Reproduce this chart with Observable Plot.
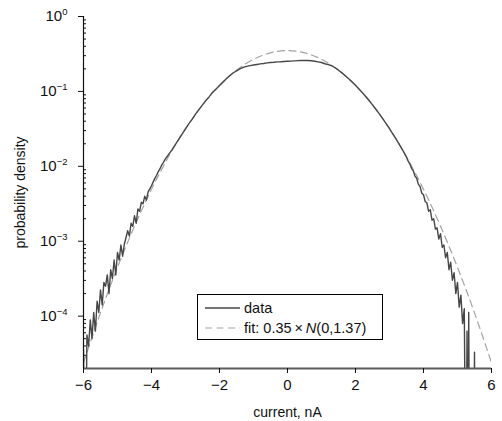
<!DOCTYPE html>
<html>
<head>
<meta charset="utf-8">
<script src="https://cdn.jsdelivr.net/npm/d3@7"></script>
<script src="https://cdn.jsdelivr.net/npm/@observablehq/plot@0.6"></script>
<style>
  html, body { margin: 0; padding: 0; background: #fff; }
  #wrap { position: relative; width: 502px; height: 421px; font-family: "Liberation Sans", Arial, Helvetica, sans-serif; }
  #wrap svg { display: block; }
  #wrap g[aria-label$="tick label"] { font-size: 15px; }
  #legend { position: absolute; left: 197px; top: 294px; width: 186px; height: 46px; box-sizing: border-box;
            border: 1px solid #000; background: #fff; font-size: 14.5px; color: #111; }
  .row { position: absolute; left: 7px; height: 20px; display: flex; align-items: center; white-space: nowrap; }
  .row svg { margin-right: 4px; }
</style>
</head>
<body>
<div id="wrap"></div>
<script>
// ---- data ----
// histogram of current (nA) and its probability density (0 = empty bin)
const currentX = [
  -6.00,-5.95,-5.90,-5.85,-5.80,-5.75,-5.70,-5.65,-5.60,-5.55,-5.50,-5.45,-5.40,-5.35,-5.30,-5.25,-5.20,-5.15,-5.10,-5.05,
  -5.00,-4.95,-4.90,-4.85,-4.80,-4.75,-4.70,-4.65,-4.60,-4.55,-4.50,-4.45,-4.40,-4.35,-4.30,-4.25,-4.20,-4.15,-4.10,-4.05,
  -4.00,-3.95,-3.90,-3.85,-3.80,-3.75,-3.70,-3.65,-3.60,-3.55,-3.50,
  -3.4,-3.3,-3.2,-3.1,-3.0,-2.9,-2.8,-2.7,-2.6,-2.5,-2.4,-2.3,-2.2,-2.1,-2.0,-1.9,-1.8,-1.7,-1.6,-1.5,-1.4,-1.3,-1.2,-1.1,
  -1.0,-0.9,-0.8,-0.7,-0.6,-0.5,-0.4,-0.3,-0.2,-0.1,0.0,0.1,0.2,0.3,0.4,0.5,0.6,0.7,0.8,0.9,
  1.0,1.1,1.2,1.3,1.4,1.5,1.6,1.7,1.8,1.9,2.0,2.1,2.2,2.3,2.4,2.5,2.6,2.7,2.8,2.9,3.0,3.1,3.2,3.3,3.4,3.5,
  3.55,3.60,3.65,3.70,3.75,3.80,3.85,3.90,3.95,4.00,4.05,4.10,4.15,4.20,4.25,4.30,4.35,4.40,4.45,4.50,
  4.55,4.60,4.65,4.70,4.75,4.80,4.85,4.90,4.95,5.00,5.05,5.10,5.15,5.20,5.25,5.28,5.30,5.33,5.36,5.47,5.50,5.53
];
const density = [
  3.55e-5,0,5.62e-5,3.98e-5,8.91e-5,5.01e-5,1.12e-4,6.3e-5,1.58e-4,1.12e-4,2.24e-4,1.41e-4,2.82e-4,2.51e-4,3.55e-4,2.00e-4,4.17e-4,3.16e-4,5.62e-4,3.55e-4,
  7.08e-4,5.62e-4,8.91e-4,6.31e-4,9.12e-4,1.12e-3,1.38e-3,1.17e-3,1.74e-3,1.58e-3,2.19e-3,1.74e-3,2.69e-3,2.51e-3,3.31e-3,3.16e-3,3.98e-3,3.55e-3,4.57e-3,5.0e-3,
  5.5e-3,6.2e-3,6.9e-3,7.6e-3,8.5e-3,9.3e-3,1.04e-2,1.13e-2,1.24e-2,1.33e-2,1.43e-2,
  1.66e-2,1.95e-2,2.29e-2,2.69e-2,3.16e-2,3.72e-2,4.27e-2,5.01e-2,5.75e-2,6.61e-2,7.59e-2,8.51e-2,9.77e-2,0.108,0.120,0.133,0.148,0.162,0.176,0.188,0.200,0.209,0.216,0.221,
  0.225,0.229,0.233,0.236,0.240,0.243,0.245,0.248,0.249,0.251,0.253,0.254,0.256,0.258,0.259,0.259,0.259,0.257,0.253,0.248,
  0.243,0.234,0.228,0.220,0.207,0.192,0.177,0.162,0.148,0.134,0.121,0.108,0.0964,0.0855,0.0755,0.0662,0.0578,0.0502,0.0434,0.0372,0.0318,0.0270,0.0229,0.0192,0.0161,0.0132,
  1.17e-2,1.07e-2,9.33e-3,8.71e-3,7.41e-3,6.92e-3,5.75e-3,5.37e-3,4.37e-3,4.17e-3,3.39e-3,3.24e-3,2.51e-3,2.63e-3,1.91e-3,2.00e-3,1.45e-3,1.51e-3,1.07e-3,1.26e-3,
  8.32e-4,8.91e-4,6.03e-4,7.08e-4,4.17e-4,5.25e-4,3.02e-4,3.80e-4,2.00e-4,2.82e-4,1.32e-4,1.91e-4,7.94e-5,1.26e-4,0,6.31e-5,0,1.12e-4,0,0,3.31e-5,0
];
// fit: 0.35 x N(0,1.37), sampled values
const fitX = [-6,-5.5,-5,-4.5,-4,-3.5,-3,-2.5,-2,-1.5,-1,-0.5,0,0.5,1,1.5,2,2.5,3,3.5,4,4.5,5,5.5,6];
const fitDensity = [2.39e-5,1.107e-4,4.48e-4,1.589e-3,4.933e-3,0.01339,0.03182,0.06622,0.1206,0.1922,0.2681,0.3275,0.35,
                    0.3275,0.2681,0.1922,0.1206,0.06622,0.03182,0.01339,4.933e-3,1.589e-3,4.48e-4,1.107e-4,2.39e-5];
// axes
const xDomain = [-6, 6];
const yDomain = [2e-5, 1];
const xTicks = [-6, -4, -2, 0, 2, 4, 6];
const xTickLabels = ["\u22126", "\u22124", "\u22122", "0", "2", "4", "6"];
const yTicks = [1e-4, 1e-3, 1e-2, 1e-1, 1];
const yTickExponents = ["\u22124", "\u22123", "\u22122", "\u22121", "0"];
const yMinorTicks = [3e-5,4e-5,5e-5,6e-5,7e-5,8e-5,9e-5,
                     2e-4,3e-4,4e-4,5e-4,6e-4,7e-4,8e-4,9e-4,
                     2e-3,3e-3,4e-3,5e-3,6e-3,7e-3,8e-3,9e-3,
                     2e-2,3e-2,4e-2,5e-2,6e-2,7e-2,8e-2,9e-2,
                     0.2,0.3,0.4,0.5,0.6,0.7,0.8,0.9];

const data = currentX.map((x, i) => ({x, y: density[i]}));
const fit = fitX.map((x, i) => ({x, y: fitDensity[i]}));

const chart = Plot.plot({
  width: 502, height: 421,
  marginLeft: 83, marginRight: 11, marginTop: 16, marginBottom: 53,
  style: {fontFamily: '"Liberation Sans", Arial, Helvetica, sans-serif', fontSize: "14px", background: "#fff", color: "#111"},
  x: {domain: xDomain},
  y: {type: "log", domain: yDomain},
  marks: [
    Plot.line(fit, {x: "x", y: "y", curve: "natural", stroke: "#a3a3a3", strokeWidth: 1.2, strokeDasharray: "7,4.5", clip: true}),
    Plot.line(data, {x: "x", y: d => d.y > 0 ? d.y : 1e-7, stroke: "#474747", strokeWidth: 1.4, clip: true}),
    Plot.ruleY([yDomain[0]], {stroke: "#5c5c5c", strokeWidth: 1.8}),
    Plot.ruleX([xDomain[0]], {stroke: "#111", strokeWidth: 1.2}),
    Plot.axisX({ticks: xTicks, tickFormat: d => xTickLabels[xTicks.indexOf(d)], tickSize: 5, tickPadding: 6,
                label: "current, nA", labelAnchor: "center", labelOffset: 48, labelArrow: "none"}),
    Plot.axisY({ticks: yTicks, tickFormat: d => "10|" + yTickExponents[yTicks.indexOf(d)], tickSize: 5, tickPadding: 11,
                label: "probability density", labelAnchor: "center", labelOffset: 68, labelArrow: "none"}),
    Plot.axisY({ticks: yMinorTicks, tickSize: 3, dx: 3, tickFormat: () => "", label: null})
  ]
});

// render y tick labels as 10 with a superscript exponent
const svgNS = "http://www.w3.org/2000/svg";
chart.querySelectorAll("text").forEach(t => {
  const s = t.textContent;
  if (s.includes("|")) {
    const [base, exp] = s.split("|");
    t.textContent = base;
    const sup = document.createElementNS(svgNS, "tspan");
    sup.setAttribute("dy", "-6");
    sup.setAttribute("font-size", "9.5");
    sup.textContent = exp;
    t.appendChild(sup);
  }
});

const wrap = document.getElementById("wrap");
wrap.appendChild(chart);

const legend = document.createElement("div");
legend.id = "legend";
legend.innerHTML =
  '<div class="row" style="top:3px"><svg width="35" height="20"><line x1="0" x2="35" y1="10" y2="10" stroke="#474747" stroke-width="1.4"/></svg><span>data</span></div>' +
  '<div class="row" style="top:23px"><svg width="35" height="20"><line x1="0" x2="35" y1="10" y2="10" stroke="#a3a3a3" stroke-width="1.2" stroke-dasharray="7,4.5"/></svg><span>fit: 0.35\u2009\u00D7\u2009<i>N</i>(0,1.37)</span></div>';
wrap.appendChild(legend);
</script>
</body>
</html>
